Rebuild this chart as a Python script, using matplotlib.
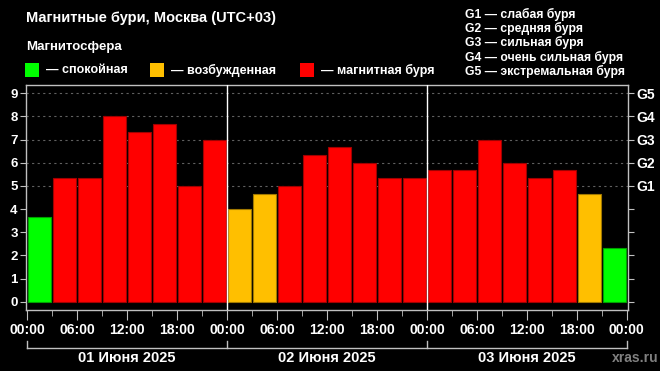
import numpy as np
import matplotlib.pyplot as plt
import matplotlib.transforms as mtransforms
from matplotlib.patches import Rectangle

plt.rcParams['font.family'] = ['Liberation Sans', 'DejaVu Sans']

# Kp index per 3-hour interval, 1-3 June 2025
kp = [3.67, 5.33, 5.33, 8.0, 7.33, 7.67, 5.0, 7.0,
      4.0, 4.67, 5.0, 6.33, 6.67, 6.0, 5.33, 5.33,
      5.67, 5.67, 7.0, 6.0, 5.33, 5.67, 4.67, 2.33]
hours = np.arange(0, 72, 3)
days = ["01 Июня 2025", "02 Июня 2025", "03 Июня 2025"]
time_labels = ["00:00", "06:00", "12:00", "18:00"] * 3 + ["00:00"]
g_labels = ["G1", "G2", "G3", "G4", "G5"]
g_text = ["G1 — слабая буря", "G2 — средняя буря", "G3 — сильная буря",
          "G4 — очень сильная буря", "G5 — экстремальная буря"]
legend_items = [("— спокойная", "#00ff00"), ("— возбужденная", "#ffbf00"),
                ("— магнитная буря", "#ff0000")]

GREEN, YELLOW, RED = "#00ff00", "#ffbf00", "#ff0000"
def color_for(v):
    if v < 4:
        return GREEN, "#00a000"
    if v < 5:
        return YELLOW, "#a07800"
    return RED, "#a00000"

fig = plt.figure(figsize=(6.6, 3.71), dpi=100, facecolor="black")
ax = fig.add_axes([26 / 660, 61 / 371, 602 / 660, 225 / 371], facecolor="black")

for h, v in zip(hours, kp):
    fc, ec = color_for(v)
    ax.bar(h + 1.5, v, width=2.75, color=fc, edgecolor=ec, linewidth=0.8, zorder=3)

# dotted grid at storm levels
for y in range(5, 10):
    ax.axhline(y, color="#606060", linestyle=(0, (2, 3)), linewidth=0.8, zorder=1)
for d in (24, 48):
    ax.axvline(d, color="white", linewidth=1.0, zorder=4)

ax.set_xlim(-0.15, 72.15)
ax.set_ylim(-0.35, 9.35)
ax.set_yticks(range(10))
ax.set_yticklabels([str(i) for i in range(10)], fontsize=9.5, fontweight="bold", color="white")
ax.set_xticks(np.arange(0, 73, 6))
ax.set_xticklabels(time_labels, fontsize=10, fontweight="bold", color="white")
ax.set_xticks(np.arange(0, 73, 3), minor=True)
ax.tick_params(axis="x", which="major", length=7, color="#c0c0c0", pad=2)
ax.tick_params(axis="x", which="minor", length=4, color="#c0c0c0")
ax.tick_params(axis="y", length=4, color="#c0c0c0", pad=2)
for s in ax.spines.values():
    s.set_color("#c0c0c0")
    s.set_linewidth(1.0)
ax.set_ylabel("Kp", color="white", fontsize=10, fontweight="bold", labelpad=8)

ax2 = ax.twinx()
ax2.set_ylim(ax.get_ylim())
ax2.set_yticks(range(10))
ax2.set_yticklabels([""] * 5 + g_labels, fontsize=10, fontweight="bold", color="white")
ax2.tick_params(axis="y", length=4, color="#c0c0c0", pad=2)
for s in ax2.spines.values():
    s.set_visible(False)

# day brackets under time axis
trans = mtransforms.blended_transform_factory(ax.transData, ax.transAxes)
ax.plot([0, 72], [-0.168, -0.168], color="#c0c0c0", lw=1.0, transform=trans, clip_on=False)
for d in (0, 24, 48, 72):
    ax.plot([d, d], [-0.168, -0.136], color="#c0c0c0", lw=1.0, transform=trans, clip_on=False)
for i, day in enumerate(days):
    ax.text(12 + 24 * i, -0.214, day, transform=trans, ha="center", va="center",
            fontsize=10.5, fontweight="bold", color="white")

fig.text(659 / 660, 13 / 371, "xras.ru", ha="right", va="center", fontsize=10,
         fontweight="bold", color="#808080")

# header
fig.text(26 / 660, 1 - 18 / 371, "Магнитные бури, Москва (UTC+03)", ha="left", va="center",
         fontsize=10.5, fontweight="bold", color="white")
fig.text(26 / 660, 1 - 47 / 371, "Магнитосфера", ha="left", va="center",
         fontsize=9.5, fontweight="bold", color="white")
for (label, col), x0 in zip(legend_items, (25, 150, 300)):
    fig.patches.append(Rectangle((x0 / 660, 1 - 77 / 371), 14 / 660, 14 / 371,
                                 transform=fig.transFigure, facecolor=col, edgecolor="none"))
    fig.text((x0 + 21) / 660, 1 - 70 / 371, label, ha="left", va="center",
             fontsize=9, fontweight="bold", color="white")
for i, t in enumerate(g_text):
    fig.text(465 / 660, 1 - (14 + 14.4 * i) / 371, t, ha="left", va="center",
             fontsize=8.8, fontweight="bold", color="white")

fig.savefig("out.png", dpi=100, facecolor="black")
